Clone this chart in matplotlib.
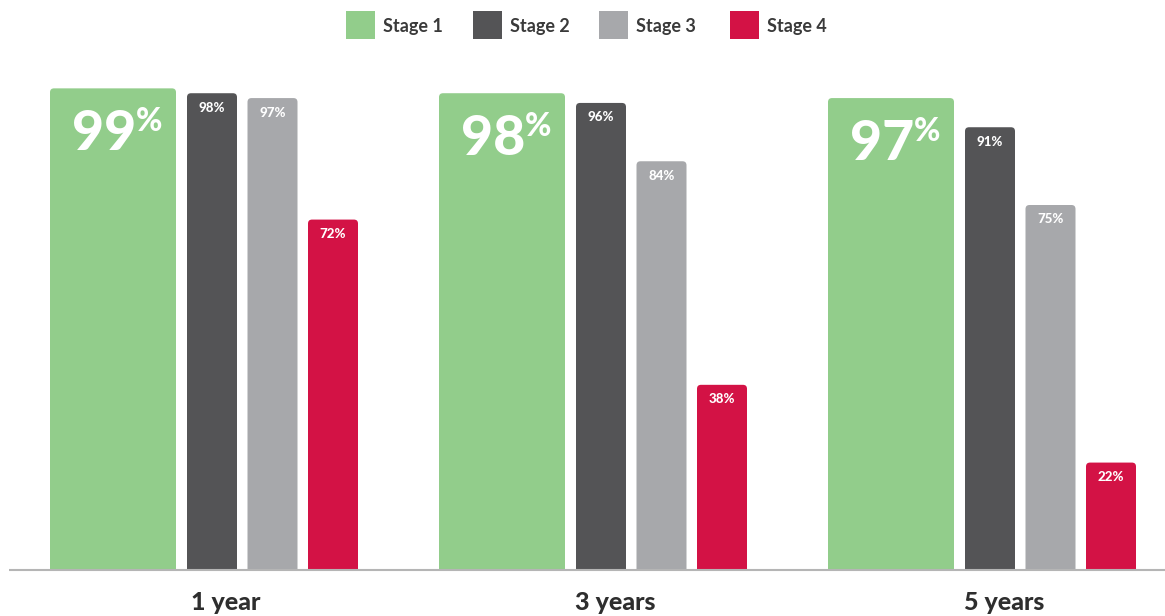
import matplotlib
matplotlib.use("Agg")
from matplotlib import pyplot as plt
from matplotlib.patches import FancyBboxPatch, Rectangle
import numpy as np

# DATA
periods = ["1 year", "3 years", "5 years"]
stages = ["Stage 1", "Stage 2", "Stage 3", "Stage 4"]
stage1 = [99, 98, 97]
stage2 = [98, 96, 91]
stage3 = [97, 84, 75]
stage4 = [72, 38, 22]
colors = ["#92cd8b", "#545456", "#a7a8ab", "#d31245"]

plt.rcParams['font.family'] = ['Lato', 'DejaVu Sans']

W, H = 1165, 616
fig = plt.figure(figsize=(W / 100, H / 100), dpi=100)

# main axes: x in pixels, y in percent (100% = 486 px above baseline)
base_y = 569.5
px_per_pct = 4.86
ax = fig.add_axes([0, (H - base_y) / H, 1, 100 * px_per_pct / H])
ax.set_xlim(0, W)
ax.set_ylim(0, 100)
ax.axis('off')

# overlay axes in pixel coords (top-left origin) for legend and labels
lax = fig.add_axes([0, 0, 1, 1], zorder=-1)
lax.set_xlim(0, W)
lax.set_ylim(H, 0)
lax.axis('off')

# bar layout
group_left = 50 + 389 * np.arange(len(periods))
widths = [126, 50, 50, 50]
offsets = [0, 137, 197.5, 258]
series = [stage1, stage2, stage3, stage4]

for s, vals in enumerate(series):
    bars = ax.bar(group_left + offsets[s], vals, width=widths[s], align='edge',
                  color=colors[s])
    for b, v in zip(bars, vals):
        x, w, h = b.get_x(), b.get_width(), b.get_height()
        b.remove()
        # rounded top corners; bottom rounding hidden below the axes (clipped)
        ax.add_patch(FancyBboxPatch((x, -2), w, h + 2,
                                    boxstyle="round,pad=0,rounding_size=4",
                                    mutation_aspect=1 / px_per_pct,
                                    fc=colors[s], ec='none', zorder=2))
        if s == 0:
            ax.annotate(f"{v}", xy=(x + 86, v), xytext=(0, -62 / 1.389),
                        textcoords='offset points', ha='right', va='baseline',
                        color='white', fontsize=40, fontweight='black', zorder=3)
            ax.annotate("%", xy=(x + 86, v), xytext=(0, -43 / 1.389),
                        textcoords='offset points', ha='left', va='baseline',
                        color='white', fontsize=23, fontweight='black', zorder=3)
        else:
            ax.annotate(f"{v}%", xy=(x + w / 2, v), xytext=(0, -18.5 / 1.389),
                        textcoords='offset points', ha='center', va='baseline',
                        color='white', fontsize=9.5, fontweight='black', zorder=3)

# baseline
ax.plot([9, W], [0, 0], color='#b5b5b5', lw=1.5, zorder=4, solid_capstyle='butt',
        clip_on=False)

# period labels
for gx, p in zip(group_left, periods):
    lax.text(gx + 176, 610, p, ha='center', va='baseline', fontsize=18,
             fontweight='black', color='#2e2e2e')

# legend
legend_x = [346, 473, 599, 730]
for lx, name, c in zip(legend_x, stages, colors):
    lax.add_patch(Rectangle((lx, 11), 29, 28, fc=c, ec='none'))
    lax.text(lx + 37, 32, name, ha='left', va='baseline', fontsize=13,
             fontweight='bold', color='#3a3a3a')

fig.savefig("out.png", dpi=100)
